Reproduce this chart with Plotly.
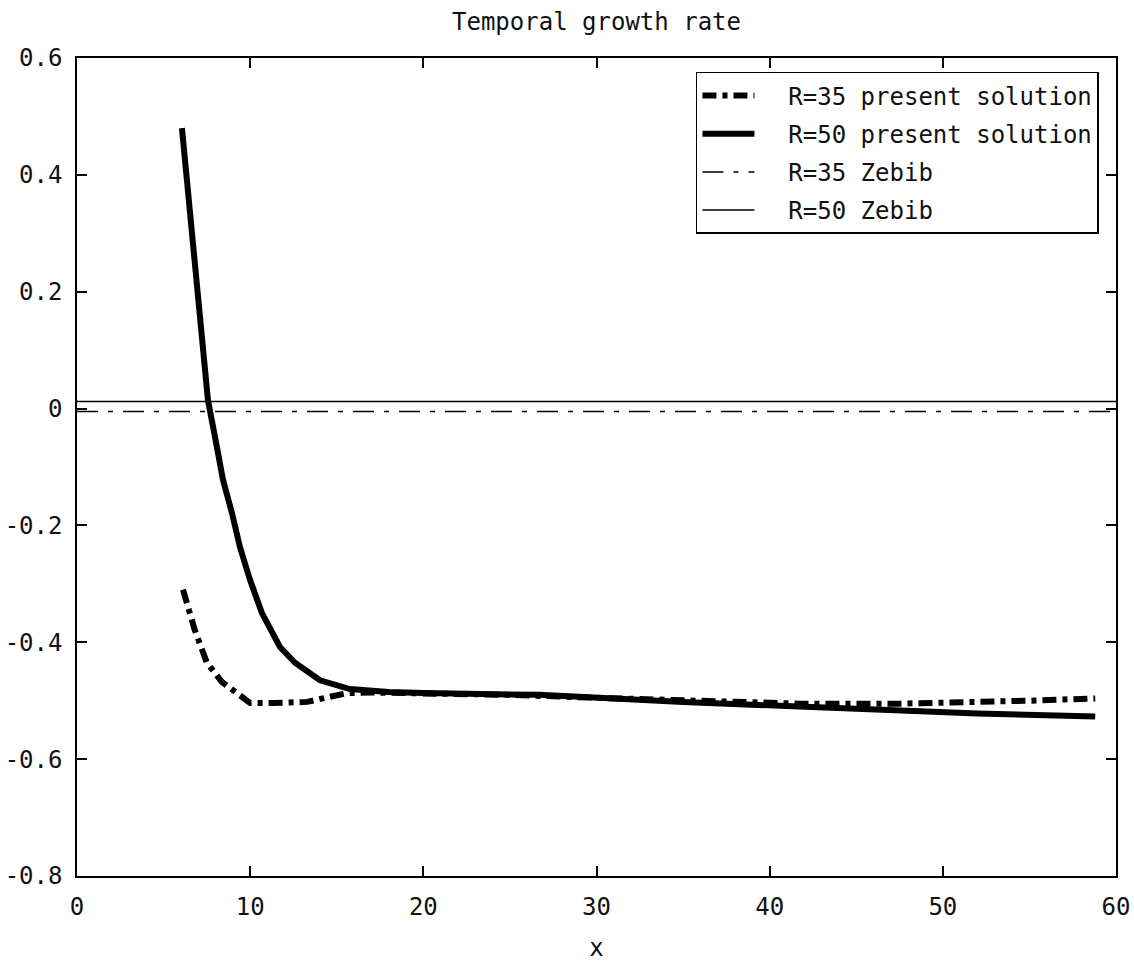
import plotly.graph_objects as go

# R=50 present solution
x_r50 = [6.06, 6.4, 6.73, 7.1, 7.56, 8.08, 8.43, 8.95, 9.41, 9.99, 10.68, 11.72, 12.59, 14.03, 15.76, 18.0, 20.0, 26.7, 30.0, 35.0, 41.7, 47.5, 52.0, 58.8]
y_r50 = [0.48, 0.38, 0.271, 0.15, 0.015, -0.066, -0.122, -0.179, -0.237, -0.293, -0.350, -0.408, -0.435, -0.465, -0.480, -0.485, -0.487, -0.490, -0.495, -0.502, -0.510, -0.518, -0.522, -0.527]

# R=35 present solution
x_r35 = [6.12, 6.8, 7.5, 8.37, 9.24, 10.0, 11.3, 13.3, 14.5, 15.6, 17.0, 20.0, 25.0, 30.0, 35.0, 41.7, 47.5, 52.0, 55.0, 58.8]
y_r35 = [-0.31, -0.379, -0.435, -0.468, -0.487, -0.504, -0.504, -0.502, -0.494, -0.487, -0.486, -0.487, -0.490, -0.495, -0.500, -0.505, -0.505, -0.503, -0.500, -0.496]

# Zebib reference values
x_zebib = [0, 60]
y_zebib_r35 = [-0.005, -0.005]
y_zebib_r50 = [0.012, 0.012]

series_names = ["R=35 present solution", "R=50 present solution", "R=35 Zebib", "R=50 Zebib"]

y_ticks = [-0.8, -0.6, -0.4, -0.2, 0, 0.2, 0.4, 0.6]
y_tick_labels = ["-0.8", "-0.6", "-0.4", "-0.2", "0", "0.2", "0.4", "0.6"]
x_ticks = [0, 10, 20, 30, 40, 50, 60]

FONT = "DejaVu Sans Mono, monospace"
PAD = "\u00a0\u00a0"

fig = go.Figure()
fig.add_trace(go.Scatter(x=x_r35, y=y_r35, mode="lines", name=PAD + series_names[0], legendgroup="a",
                         line=dict(color="black", width=6, dash="14px,6px,5px,6px")))
fig.add_trace(go.Scatter(x=x_r50, y=y_r50, mode="lines", name=PAD + series_names[1], legendgroup="b",
                         line=dict(color="black", width=6)))
fig.add_trace(go.Scatter(x=x_zebib, y=y_zebib_r35, mode="lines", name=PAD + series_names[2], legendgroup="c",
                         line=dict(color="black", width=1.5, dash="21px,10px,5px,10px")))
fig.add_trace(go.Scatter(x=x_zebib, y=y_zebib_r50, mode="lines", name=PAD + series_names[3], legendgroup="d",
                         line=dict(color="black", width=1.5)))

axis_common = dict(showline=True, linecolor="black", linewidth=1.5, mirror="ticks",
                   ticks="inside", ticklen=10, tickwidth=1.5, tickcolor="black",
                   showgrid=False, zeroline=False, automargin=False,
                   tickfont=dict(family=FONT, size=24, color="#111"))

fig.update_layout(
    width=1134, height=962,
    paper_bgcolor="white", plot_bgcolor="white",
    margin=dict(l=77, r=18, t=58, b=86),
    title=dict(text="Temporal growth rate", x=0.5, xref="paper", xanchor="center",
               y=1 - 22/962, yanchor="middle",
               font=dict(family=FONT, size=24, color="#111")),
    showlegend=True,
    legend=dict(x=0.9836, y=0.983, xanchor="right", yanchor="top",
                bgcolor="white", bordercolor="black", borderwidth=1.5,
                font=dict(family=FONT, size=24, color="#111"),
                tracegroupgap=4, itemwidth=52),
)
fig.update_xaxes(range=[0, 60], tickvals=x_ticks, ticklabelstandoff=8,
                 title=dict(text="x", font=dict(family=FONT, size=24, color="#111"), standoff=22),
                 **axis_common)
fig.update_yaxes(range=[-0.8, 0.6], tickvals=y_ticks, ticktext=y_tick_labels, ticklabelstandoff=8,
                 **axis_common)

fig.write_html(
    "out.html",
    config={"displayModeBar": False},
    post_script=(
        "document.documentElement.style.margin='0';"
        "document.documentElement.style.overflow='hidden';"
        "document.body.style.margin='0';"
        "document.body.style.overflow='hidden';"
    ),
)
